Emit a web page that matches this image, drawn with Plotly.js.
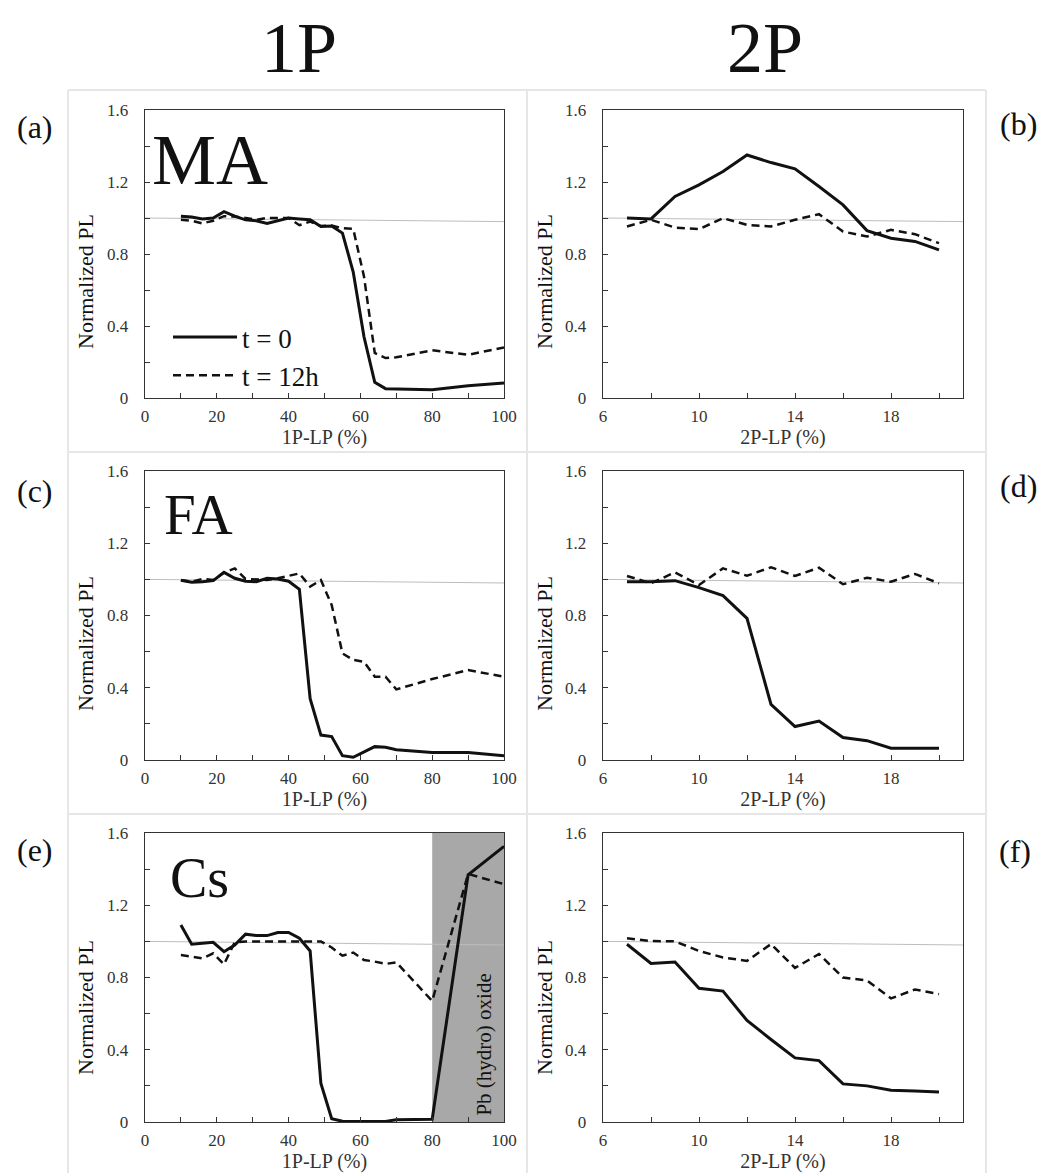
<!DOCTYPE html>
<html>
<head>
<meta charset="utf-8">
<script src="https://cdn.plot.ly/plotly-3.0.1.min.js"></script>
<style>html,body{margin:0;padding:0;background:#fff;}#chart{width:1042px;height:1173px;}</style>
</head>
<body>
<div id="chart"></div>
<script>
// ---- data ----
const x1P = [10,13,16,19,22,25,28,31,34,37,40,43,46,49,52,55,58,61,64,67,70,80,90,100];
const x2P = [7,8,9,10,11,12,13,14,15,16,17,18,19,20];

const ma1P_t0  = [1.01,1.005,0.995,1.0,1.035,1.01,0.99,0.985,0.97,0.985,1.0,0.995,0.99,0.953,0.956,0.916,0.70,0.34,0.087,0.052,0.05,0.046,0.068,0.083];
const ma1P_t12 = [0.99,0.985,0.97,0.985,1.01,1.008,1.0,0.99,1.0,1.0,1.0,0.96,0.98,0.955,0.958,0.943,0.94,0.675,0.25,0.222,0.226,0.265,0.24,0.281];
const fa1P_t0  = [0.995,0.984,0.987,0.993,1.039,1.006,0.99,0.987,1.006,1.002,0.99,0.945,0.34,0.138,0.13,0.024,0.015,0.046,0.074,0.07,0.057,0.042,0.042,0.024];
const fa1P_t12 = [0.995,0.987,1.002,0.997,1.037,1.061,1.002,1.0,0.997,1.006,1.02,1.033,0.96,0.996,0.858,0.59,0.554,0.544,0.461,0.461,0.391,0.448,0.498,0.461];
const cs1P_t0  = [1.091,0.984,0.99,0.995,0.943,0.98,1.04,1.032,1.032,1.049,1.049,1.017,0.947,0.213,0.018,0.004,0.003,0.003,0.003,0.003,0.013,0.015,1.369,1.526];
const cs1P_t12 = [0.925,0.916,0.906,0.934,0.873,0.995,1.0,1.0,1.0,1.0,1.0,1.0,1.0,1.0,0.966,0.921,0.938,0.897,0.888,0.875,0.884,0.67,1.373,1.317];

const ma2P_t0  = [1.0,0.995,1.12,1.184,1.258,1.35,1.308,1.273,1.175,1.073,0.93,0.888,0.87,0.823];
const ma2P_t12 = [0.953,0.99,0.947,0.938,0.999,0.962,0.953,0.99,1.021,0.925,0.897,0.934,0.91,0.86];
const fa2P_t0  = [0.987,0.987,0.993,0.954,0.91,0.784,0.308,0.185,0.216,0.124,0.107,0.065,0.065,0.065];
const fa2P_t12 = [1.019,0.978,1.039,0.969,1.061,1.02,1.067,1.019,1.065,0.973,1.009,0.987,1.03,0.978];
const cs2P_t0  = [0.984,0.878,0.886,0.74,0.725,0.562,0.457,0.355,0.34,0.211,0.2,0.176,0.172,0.166];
const cs2P_t12 = [1.017,1.002,1.0,0.947,0.911,0.892,0.985,0.853,0.93,0.8,0.783,0.684,0.734,0.708];

const ref1P_x = [0,100];
const ref2P_x = [6,21];
const ref_y   = [1.0,0.98];

const oxideRange = [80,100];

const seriesNames = ['t = 0','t = 12h'];
const x1PTicks = [0,20,40,60,80,100];
const x2PTicks = [6,10,14,18];
const yTicks = [0,0.4,0.8,1.2,1.6];
// ---- end data ----

const W = 1042, H = 1173;
const px = v => v / W;
const py = v => 1 - v / H;
const serif = 'Liberation Serif';
const ink = '#111';

const panels = [
  {x:x1P, t0:ma1P_t0, t12:ma1P_t12, ref:ref1P_x, is1P:true,  xl:[145,504], yl:[110,398]},
  {x:x2P, t0:ma2P_t0, t12:ma2P_t12, ref:ref2P_x, is1P:false, xl:[603,963], yl:[110,398]},
  {x:x1P, t0:fa1P_t0, t12:fa1P_t12, ref:ref1P_x, is1P:true,  xl:[145,504], yl:[471,760]},
  {x:x2P, t0:fa2P_t0, t12:fa2P_t12, ref:ref2P_x, is1P:false, xl:[603,963], yl:[471,760]},
  {x:x1P, t0:cs1P_t0, t12:cs1P_t12, ref:ref1P_x, is1P:true,  xl:[145,504], yl:[833,1122]},
  {x:x2P, t0:cs2P_t0, t12:cs2P_t12, ref:ref2P_x, is1P:false, xl:[603,963], yl:[833,1122]}
];

const traces = [];
const layout = {
  width: W, height: H, autosize: false,
  margin: {l:0, r:0, t:0, b:0, pad:0},
  paper_bgcolor: '#fff', plot_bgcolor: '#fff',
  font: {family: serif, color: '#222'},
  showlegend: true,
  legend: {x: px(168), y: py(313), xanchor:'left', yanchor:'top', bgcolor:'rgba(0,0,0,0)',
           font:{family: serif, size: 27, color: ink}, itemwidth: 64, tracegroupgap: 0},
  shapes: [], annotations: []
};

panels.forEach((p, i) => {
  const n = i + 1;
  const xa = 'x' + (n === 1 ? '' : n), ya = 'y' + (n === 1 ? '' : n);
  traces.push({x: p.ref, y: ref_y, xaxis: xa, yaxis: ya, mode:'lines', line:{color:'#bdbdbd', width:1}, showlegend:false, hoverinfo:'skip'});
  traces.push({x: p.x, y: p.t0, xaxis: xa, yaxis: ya, mode:'lines', name: seriesNames[0], line:{color:ink, width:3}, showlegend: i === 0});
  traces.push({x: p.x, y: p.t12, xaxis: xa, yaxis: ya, mode:'lines', name: seriesNames[1], line:{color:ink, width:2.5, dash:'8px,5px'}, showlegend: i === 0});

  const tickfont = {family: serif, size: 17, color: '#333'};
  layout['xaxis' + (n === 1 ? '' : n)] = {
    domain: [px(p.xl[0]), px(p.xl[1])], anchor: ya,
    range: p.is1P ? [0,100] : [6,21],
    tickmode: 'array', tickvals: p.is1P ? x1PTicks : x2PTicks,
    ticks: 'inside', ticklen: 5, tickwidth: 1, tickcolor: '#333',
    minor: {tickmode:'linear', tick0: p.is1P ? 0 : 6, dtick: p.is1P ? 10 : 2, ticks:'inside', ticklen:5, tickcolor:'#333', showgrid:false},
    showline: true, mirror: true, linecolor: '#333', linewidth: 1.3,
    showgrid: false, zeroline: false, tickfont: tickfont, ticklabelstandoff: 2,
    title: {text: p.is1P ? '1P-LP (%)' : '2P-LP (%)', font:{family: serif, size: 20, color: '#333'}, standoff: 4},
    fixedrange: true
  };
  layout['yaxis' + (n === 1 ? '' : n)] = {
    domain: [py(p.yl[1]), py(p.yl[0])], anchor: xa,
    range: [0,1.6], tickmode:'array', tickvals: yTicks,
    ticks: 'inside', ticklen: 5, tickwidth: 1, tickcolor: '#333',
    minor: {tickmode:'linear', tick0: 0, dtick: 0.2, ticks:'inside', ticklen:5, tickcolor:'#333', showgrid:false},
    showline: true, mirror: true, linecolor: '#333', linewidth: 1.3,
    showgrid: false, zeroline: false, tickfont: tickfont, ticklabelstandoff: 12,
    fixedrange: true
  };
  layout.annotations.push({
    text: 'Normalized PL', xref:'paper', yref:'paper',
    x: px(p.is1P ? 85 : 544), y: py([282,282,644,644,1008,1008][i]),
    textangle: -90, showarrow:false, xanchor:'center', yanchor:'middle',
    font:{family: serif, size: 22, color: ink}
  });
});

layout.shapes.push({type:'rect', xref:'x5', yref:'y5', x0: oxideRange[0], x1: oxideRange[1], y0: 0, y1: 1.6,
  fillcolor:'#a8a8a8', line:{width:0}, layer:'below'});
layout.annotations.push({text:'Pb (hydro) oxide', xref:'x5', yref:'y5', x: 94.5, y: 0.43, textangle:-90,
  showarrow:false, font:{family: serif, size: 21, color: ink}});

const gcol = '#e6e6e6';
[68, 527, 986].forEach(x => layout.shapes.push({type:'line', xref:'paper', yref:'paper', x0:px(x), x1:px(x), y0:py(90), y1:py(1173), line:{color:gcol, width:2}, layer:'below'}));
[90, 452, 814].forEach(y => layout.shapes.push({type:'line', xref:'paper', yref:'paper', x0:px(68), x1:px(986), y0:py(y), y1:py(y), line:{color:gcol, width:2}, layer:'below'}));

const big = (text, x, y, size, anchor) => layout.annotations.push({text, xref:'paper', yref:'paper', x:px(x), y:py(y),
  xanchor: anchor || 'center', yanchor:'middle', showarrow:false, font:{family: serif, size, color: ink}});
big('1P', 299, 48, 72);
big('2P', 765, 48, 72);
big('MA', 150, 160, 72, 'left');
big('FA', 162, 514, 57, 'left');
big('Cs', 168, 878, 56, 'left');
big('(a)', 35, 127, 32);
big('(b)', 1018, 124, 32);
big('(c)', 35, 491, 32);
big('(d)', 1018, 486, 32);
big('(e)', 35, 850, 32);
big('(f)', 1015, 851, 32);

Plotly.newPlot('chart', traces, layout, {displayModeBar:false, staticPlot:true});
</script>
</body>
</html>
